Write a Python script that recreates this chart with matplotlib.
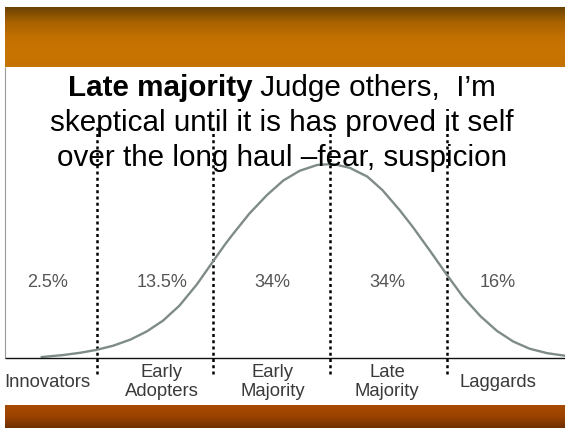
import matplotlib
matplotlib.use("Agg")
import matplotlib.pyplot as plt
import numpy as np
from matplotlib.colors import LinearSegmentedColormap

plt.rcParams['font.family'] = ['Liberation Sans', 'DejaVu Sans']

# adoption curve (x in std devs from the mean, y relative to the peak)
curve_x = [-2.47, -2.29, -2.14, -2.00, -1.86, -1.71, -1.57, -1.43, -1.29, -1.14,
           -1.00, -0.90, -0.83, -0.69, -0.54, -0.40, -0.26, -0.11, 0.03, 0.17,
           0.32, 0.45, 0.60, 0.71, 0.86, 1.00, 1.14, 1.29, 1.43, 1.57,
           1.71, 1.86, 2.01]
curve_y = [0.005, 0.015, 0.027, 0.042, 0.063, 0.095, 0.137, 0.193, 0.27, 0.38,
           0.50, 0.585, 0.64, 0.745, 0.84, 0.915, 0.965, 0.995, 1.00, 0.98,
           0.935, 0.865, 0.76, 0.675, 0.55, 0.43, 0.315, 0.215, 0.14, 0.085,
           0.048, 0.025, 0.012]

boundaries = [-2, -1, 0, 1]
shares = ["2.5%", "13.5%", "34%", "34%", "16%"]
groups = ["Innovators", "Early\nAdopters", "Early\nMajority", "Late\nMajority", "Laggards"]
title_bold = "Late majority"
title_rest = " Judge others,  I\u2019m"
title_lines = ["skeptical until it is has proved it self",
               "over the long haul \u2013fear, suspicion"]

W, H = 565, 428
fig = plt.figure(figsize=(W / 100, H / 100), dpi=100)

# background in pixel coordinates: orange bands top and bottom
bg = fig.add_axes([0, 0, 1, 1])
bg.axis('off')
top_cmap = LinearSegmentedColormap.from_list('top', ['#6b4205', '#a96200', '#c27000', '#c77402', '#c57200'])
bot_cmap = LinearSegmentedColormap.from_list('bot', ['#aa4b00', '#9a4200', '#6e3000'])
grad = np.linspace(0, 1, 64).reshape(-1, 1)
bg.imshow(grad, cmap=top_cmap, aspect='auto', extent=(5, W, 67, 7), zorder=1)
bg.imshow(grad, cmap=bot_cmap, aspect='auto', extent=(5, W, H, 405), zorder=1)
bg.vlines(5, 67, 358, color='#999999', lw=0.8)
bg.set_xlim(0, W)
bg.set_ylim(H, 0)

# chart axes: mean at px 330, one std dev = 116.7 px, peak height = 194 px
ax = fig.add_axes([0, 0, 1, 1])
ax.patch.set_alpha(0)
sd, x0, base, peak = 116.7, 330, 358, 194
ax.set_xlim((0 - x0) / sd, (W - x0) / sd)
ax.set_ylim((base - H) / peak, base / peak)
ax.axis('off')

ax.plot(curve_x, curve_y, color='#7f8b89', lw=1.7, solid_joinstyle='round', zorder=3)
ax.hlines(0, (5 - x0) / sd, (W - x0) / sd, color='#111111', lw=1.0, zorder=3)
ax.vlines(boundaries, -0.082, 1.20, color='black', lw=1.8,
          linestyle=(0, (1.2, 1.3)), zorder=2)

label_x = [-2.42, -1.44, -0.49, 0.49, 1.44]
for lx, s, g in zip(label_x, shares, groups):
    ax.text(lx, 0.387, s, ha='center', va='center', fontsize=13, color='#555555')
    ax.text(lx, -0.124, g, ha='center', va='center', fontsize=13.3,
            color='#3a3a3a', linespacing=1.1)

# title: bold lead-in followed by normal text, centred as one line
fs = 21.3
cx = 282
r = fig.canvas.get_renderer()
tb = fig.text(0, 0, title_bold, fontsize=fs, weight='bold', va='baseline', zorder=5)
tn = fig.text(0, 0, title_rest, fontsize=fs, va='baseline', zorder=5)
w1 = tb.get_window_extent(r).width
w2 = tn.get_window_extent(r).width
left = cx - (w1 + w2) / 2
tb.set_position((left / W, 1 - 96 / H))
tn.set_position(((left + w1) / W, 1 - 96 / H))
for i, line in enumerate(title_lines):
    fig.text(cx / W, 1 - (131 + 35 * i) / H, line, fontsize=fs, ha='center',
             va='baseline', zorder=5)

fig.savefig('out.png', dpi=100)
